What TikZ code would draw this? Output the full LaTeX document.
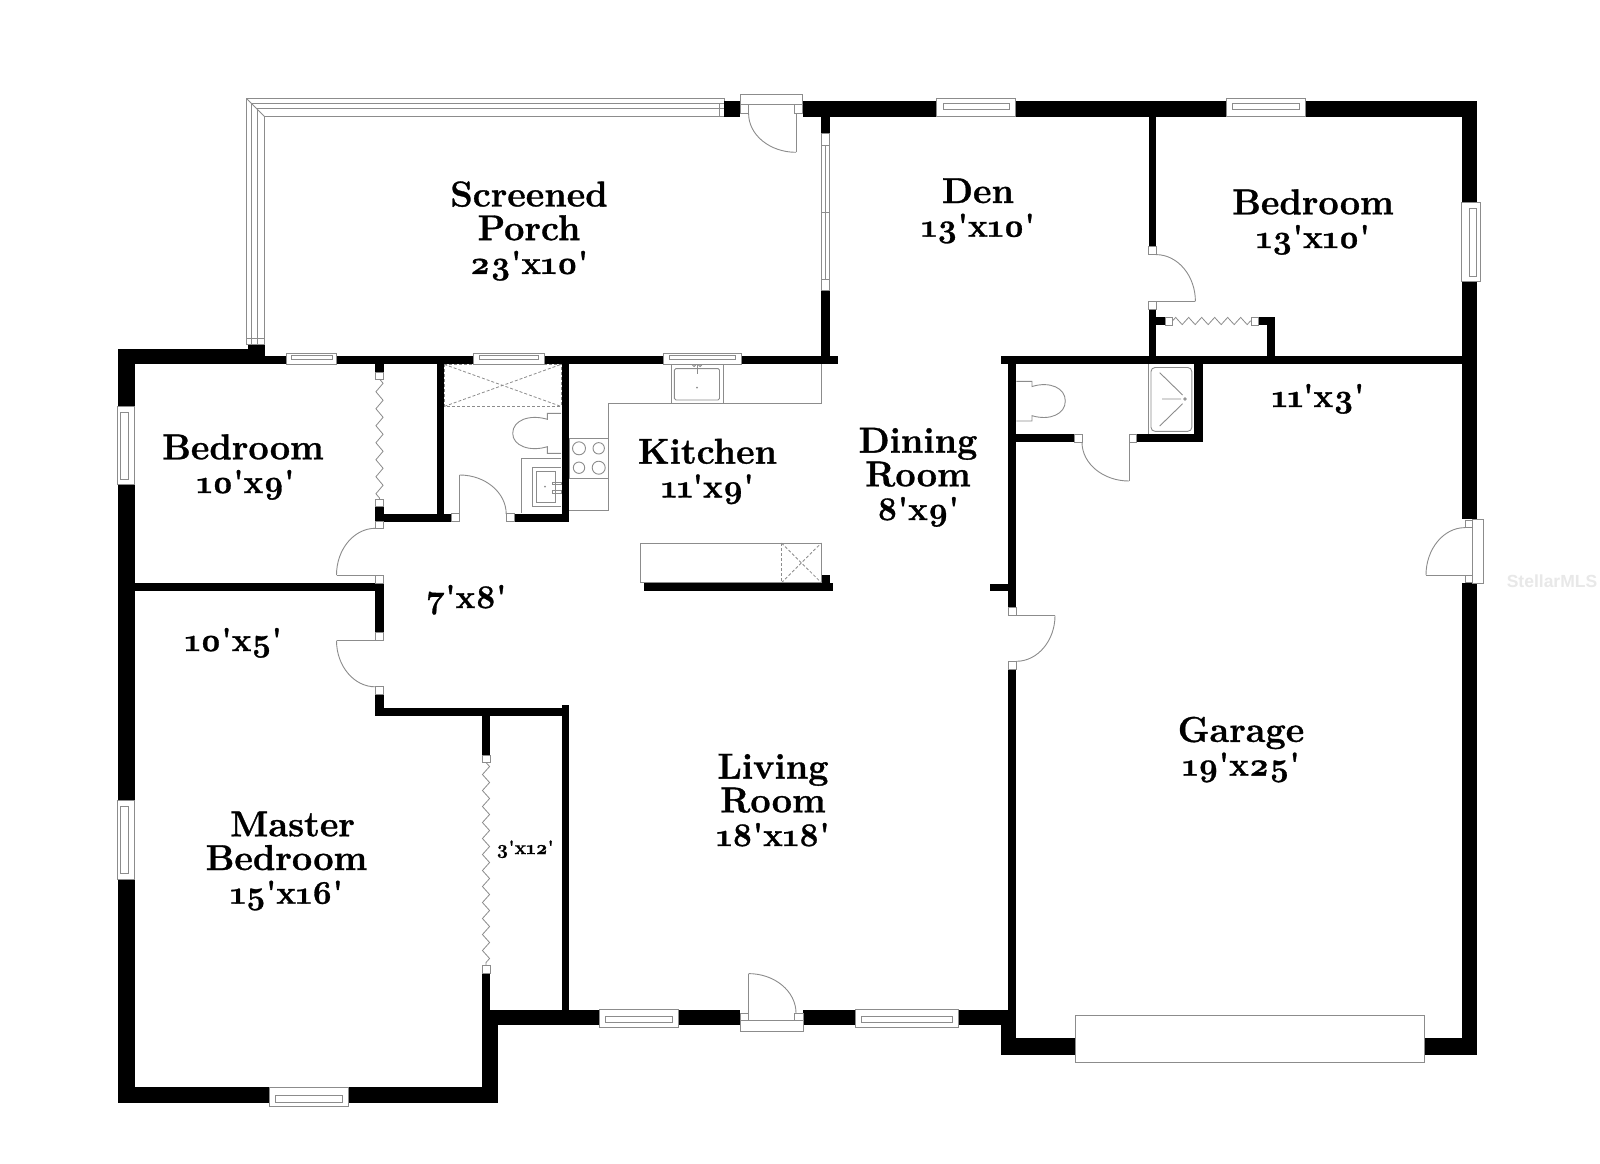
\documentclass[tikz,border=0pt]{standalone}
\usepackage{fontspec}
\newfontfamily\labfont{Latin Modern Roman}[Numbers=OldStyle,BoldFeatures={FakeBold=0.9}]
\setsansfont{Liberation Sans}
\usetikzlibrary{decorations.pathmorphing}
\definecolor{linegray}{gray}{0.55}
\newcommand{\dimsize}{\fontsize{33}{33.7}\selectfont}
\tikzset{
  wallfill/.style={fill=black,draw=none},
  fine/.style={draw=linegray,line width=0.9pt,fill=white},
  fineopen/.style={draw=linegray,line width=0.9pt},
  dashline/.style={draw=linegray,line width=0.8pt,dash pattern=on 3pt off 2pt},
  lab/.style={font=\labfont\bfseries\fontsize{36}{33.7}\selectfont,align=center,inner sep=0pt,anchor=base},
  bifold/.style={draw=linegray,line width=0.8pt,decorate,decoration={zigzag,amplitude=3.6pt,segment length=#1}},
}
\newcommand{\qarc}[4]{\draw[fineopen] (#1,#2) .. controls ({#1+.55*(#3-#1)},#2) and (#3,{#4-.55*(#4-#2)}) .. (#3,#4);}
\newcommand{\winbox}[8]{\draw[fine] (#1,#2) rectangle (#3,#4); \draw[fine] (#5,#6) rectangle (#7,#8);}
\begin{document}
\begin{tikzpicture}[x=1pt,y=-1pt]
\useasboundingbox (0,0) rectangle (1600,1163);
\fill[white] (0,0) rectangle (1600,1163);

% screened porch band
\draw[fine] (246.9,98.9) -- (724.3,98.9) -- (724.3,116.8) -- (264.8,116.8) -- (264.8,344.5) -- (246.9,344.5) -- cycle;
\draw[fineopen] (251.2,344.5) -- (251.2,103.4) -- (724.3,103.4);
\draw[fineopen] (257.5,344.5) -- (257.5,108.6) -- (724.3,108.6);
\draw[fineopen] (246.9,98.9) -- (264.8,116.8);
\draw[fineopen] (719,103.4) -- (719,116.8);
\draw[fineopen] (246.9,338) -- (264.8,338);

% kitchen counters and fixtures
\draw[fineopen] (569,510) -- (608.3,510) -- (608.3,403) -- (821.3,403) -- (821.3,364.4);
\draw[fine] (569.3,438.3) rectangle (608.3,478.3);
\draw[fineopen] (579,448.3) circle[radius=6.5pt] (598.7,448.3) circle[radius=5.7pt] (579,467.7) circle[radius=5.7pt] (598.7,467.7) circle[radius=6.5pt];
\draw[fine] (671,364.4) rectangle (723,403);
\draw[fineopen,rounded corners=1.5pt] (674.4,368.6) rectangle (719.5,400);
\draw[fineopen] (697,364.4) -- (697,374);
\draw[fineopen] (694,365) circle[radius=1.6pt] (700,365) circle[radius=1.6pt];
\fill[linegray] (697,387.5) circle[radius=1pt];
\draw[fine] (640.5,543) rectangle (821.3,582.7);
\draw[dashline] (781.5,543) rectangle (821.3,582.7);
\draw[dashline] (781.5,543) -- (821.3,582.7) (781.5,582.7) -- (821.3,543);

% bath 1
\draw[dashline] (444.3,364.4) rectangle (561,406.4);
\draw[dashline] (444.3,406.4) -- (561,364.4) (444.3,364.4) -- (561,406.4);
\draw[fineopen] (561,413.3) -- (547.3,413.3) -- (547.3,419.3) .. controls (530,414) and (512.7,420) .. (512.7,433.3) .. controls (512.7,446) and (530,452) .. (547.3,446.7) -- (547.3,453.3) -- (561,453.3);
\draw[fineopen] (561,458.3) -- (521.7,458.3) -- (521.7,513.3);
\draw[fineopen] (561,467.3) -- (532.3,467.3) -- (532.3,506.7) -- (561,506.7);
\draw[fineopen] (536.3,471) rectangle (555,502.7);
\fill[linegray] (545,486.7) circle[radius=1pt];
\draw[fineopen] (552,482) rectangle (561,484.5) (552,490.5) rectangle (561,493);

% bath 2
\draw[fineopen] (1148.5,364.4) -- (1148.5,434);
\draw[fineopen,rounded corners=4pt] (1151,367.5) rectangle (1191.8,431.3);
\draw[fineopen] (1159.7,372.7) -- (1182.6,395) (1162,399) -- (1181,399) (1159.7,426) -- (1182.6,403.7);
\draw[fineopen] (1185,399) circle[radius=1.3pt];
\draw[fineopen] (1016.3,381.3) -- (1032,381.3) -- (1032,386.5) .. controls (1050,381) and (1065.3,388) .. (1065.3,401) .. controls (1065.3,414) and (1050,421) .. (1032,415.7) -- (1032,421) -- (1016.3,421);

% walls
\foreach \a/\b/\c/\d in {
  802.9/101.3/1477/116.8,
  724.3/101.3/740/116.8,
  1461.7/101.3/1477/1054.5,
  1000.5/1038.4/1477/1054.5,
  1000.5/1025/1016.3/1054.5,
  1000.5/356.2/1477/364.4,
  1008/356.2/1016.3/1054.5,
  482/1009.8/1016.3/1025.3,
  482/973.6/490/1103.4,
  482/1009.8/497.5/1103.4,
  118.4/1087.3/497.5/1103.4,
  118.4/348.6/134.9/1103.4,
  118.4/348.6/264.8/364.4,
  247.8/344.5/264.8/360,
  118.4/356.2/837.8/364.4,
  821.3/116.8/829.5/364.4,
  375.3/364.4/383.6/379,
  375.3/506/383.6/521.5,
  375.3/513.9/451.4/521.5,
  436.9/364.4/444.2/521.5,
  561.5/364.4/569.2/521.5,
  514.4/513.9/569.2/521.5,
  134.9/582.7/383.6/591.4,
  375.3/582.7/383.6/632.7,
  375.3/694.7/383.6/716,
  375.3/707.8/569.2/716,
  561.5/705/569.2/1012,
  482/716/490/755,
  643.9/582.7/833.4/591.4,
  822/575/829.5/583,
  1148.5/116.8/1156/246.3,
  1148.5/309/1156/364.4,
  1156/317/1165/325,
  1258/317/1274.5/325,
  1267/317/1274.5/364.4,
  1194/364.4/1203/442.3,
  1136.7/434/1203/442.3,
  1016.3/434/1074.5/442.3,
  990/583.5/1008/590.7
}{\fill[wallfill] (\a,\b) rectangle (\c,\d);}
% erase wall openings
\fill[white] (1008,607.6) rectangle (1016.3,669);
\fill[white] (1461.7,519) rectangle (1477,583);
\fill[white] (740,1009.8) rectangle (803,1025.3);
\fill[white] (482,755) rectangle (490,973.6);

% porch east slider
\draw[fine] (821.3,133.4) rectangle (829.5,290.7);
\draw[fineopen] (821.3,145.4) -- (829.5,145.4) (821.3,279.7) -- (829.5,279.7) (821.3,212) -- (829.5,212) (825.4,145.4) -- (825.4,279.7);

% windows
\winbox{936.7}{98}{1015.3}{116.8}{943}{103.4}{1009}{109.3}
\winbox{1226}{98}{1305}{116.8}{1232}{103.4}{1299}{109.3}
\winbox{286.6}{353.4}{336.5}{364.4}{291}{355}{332}{359.5}
\winbox{473.7}{353.4}{544}{364.4}{479.5}{355}{538}{359.5}
\winbox{663.3}{353.4}{741.3}{364.4}{669}{355}{735.5}{359.5}
\winbox{599.3}{1009}{678.3}{1027.7}{605}{1016.6}{672.5}{1022.9}
\winbox{855}{1009}{958}{1027.7}{861}{1016.6}{952}{1022.9}
\winbox{269.7}{1087}{348.2}{1106}{275.5}{1095}{342.5}{1102}
\winbox{117}{406.4}{134.9}{484.6}{120.8}{412}{128}{479}
\winbox{117}{800.8}{134.9}{879}{120.8}{806.5}{128}{873.5}
\winbox{1461.7}{202.6}{1480}{281.4}{1469.4}{208}{1476}{276}

% door jambs
\foreach \a/\b/\c/\d in {
  740/104.8/748.6/113.7, 794.5/104.8/802.9/113.7,
  740/1013/748.6/1020.8, 794.5/1013/803/1020.8,
  375.3/521.5/383.6/528.3, 375.3/575/383.6/583,
  375.3/632.7/383.6/640.6, 375.3/686.8/383.6/694.7,
  451.4/513.9/459.7/521.5, 506/513.9/514.4/521.5,
  1148.5/246.3/1156/254.6, 1148.5/301.4/1156/309,
  1008/607.6/1016.3/615.5, 1008/661.3/1016.3/669,
  1074.5/434/1082/442.3, 1129/434/1136.7/442.3,
  1465/520/1472.5/527.6, 1465/575/1472.5/582.5,
  375.3/499/383.6/506, 375.3/372/383.6/379,
  482/755/490/762.5, 482/965.7/490/973.6,
  1165/317/1172.4/325, 1251.5/317/1258/325
}{\draw[fine] (\a,\b) rectangle (\c,\d);}

% door frames
\draw[fine] (740,94.5) rectangle (802.9,104.8);
\draw[fine] (740,1020.8) rectangle (803,1031);
\draw[fine] (1472.5,519) rectangle (1483.7,583);

% door leaves and swings
\draw[fineopen] (796,113.7) -- (796,152.3); \qarc{796}{152.3}{748.6}{113.7}
\draw[fineopen] (748.6,973.6) -- (748.6,1021); \qarc{748.6}{973.6}{796}{1013}
\draw[fineopen] (336.5,575) -- (375.3,575); \qarc{375.3}{528.3}{336.5}{575}
\draw[fineopen] (336.5,640.6) -- (375.3,640.6); \qarc{375.3}{686.8}{336.5}{640.6}
\draw[fineopen] (459.7,475) -- (459.7,514); \qarc{459.7}{475}{506.2}{514}
\draw[fineopen] (1156,301.4) -- (1195.4,301.4); \qarc{1156}{254.6}{1195.4}{301.4}
\draw[fineopen] (1016.3,615.5) -- (1055,615.5); \qarc{1016.3}{661.3}{1055}{615.5}
\draw[fineopen] (1129,442.3) -- (1129,481); \qarc{1129}{481}{1082}{442.3}
\draw[fineopen] (1426,575) -- (1465,575); \qarc{1465}{527.6}{1426}{575}

% bifold doors
\draw[bifold=17pt] (379.5,379) -- (379.5,499);
\draw[bifold=16pt] (486,762.5) -- (486,965.7);
\draw[bifold=13pt] (1172.4,321) -- (1251.5,321);

% garage door
\draw[fine] (1075.5,1015) rectangle (1424,1062);

% labels
\node[lab] (porch) at (529,273.9) {Screened\\Porch\\{\dimsize 23'x10'}};
\node[lab] (den) at (978,236.7) {Den\\{\dimsize 13'x10'}};
\node[lab] (bedne) at (1313,248) {Bedroom\\{\dimsize 13'x10'}};
\node[lab] (bathne) at (1318,407) {\dimsize 11'x3'};
\node[lab] (dining) at (918,520) {Dining\\Room\\{\dimsize 8'x9'}};
\node[lab] (kitchen) at (707.5,497.4) {Kitchen\\{\dimsize 11'x9'}};
\node[lab] (bedw) at (243,493) {Bedroom\\{\dimsize\hspace*{5pt}10'x9'}};
\node[lab] (hall) at (466.6,608) {\dimsize 7'x8'};
\node[lab] (bathw) at (233.3,651) {\dimsize 10'x5'};
\node[lab] (master) at (286.5,903.7) {\hspace*{12pt}Master\\Bedroom\\{\dimsize 15'x16'}};
\node[lab] (living) at (773,846) {Living\\Room\\{\dimsize 18'x18'}};
\node[lab] (garage) at (1241,775.6) {Garage\\{\dimsize 19'x25'}};
\node[lab,font=\labfont\bfseries\fontsize{19.5}{21}\selectfont] (closet) at (525,854) {3'x12'};
\node[font=\sffamily\bfseries\fontsize{17.5}{20}\selectfont,text=black!9,inner sep=0pt] (mark) at (1552,581) {StellarMLS};
\end{tikzpicture}
\end{document}
